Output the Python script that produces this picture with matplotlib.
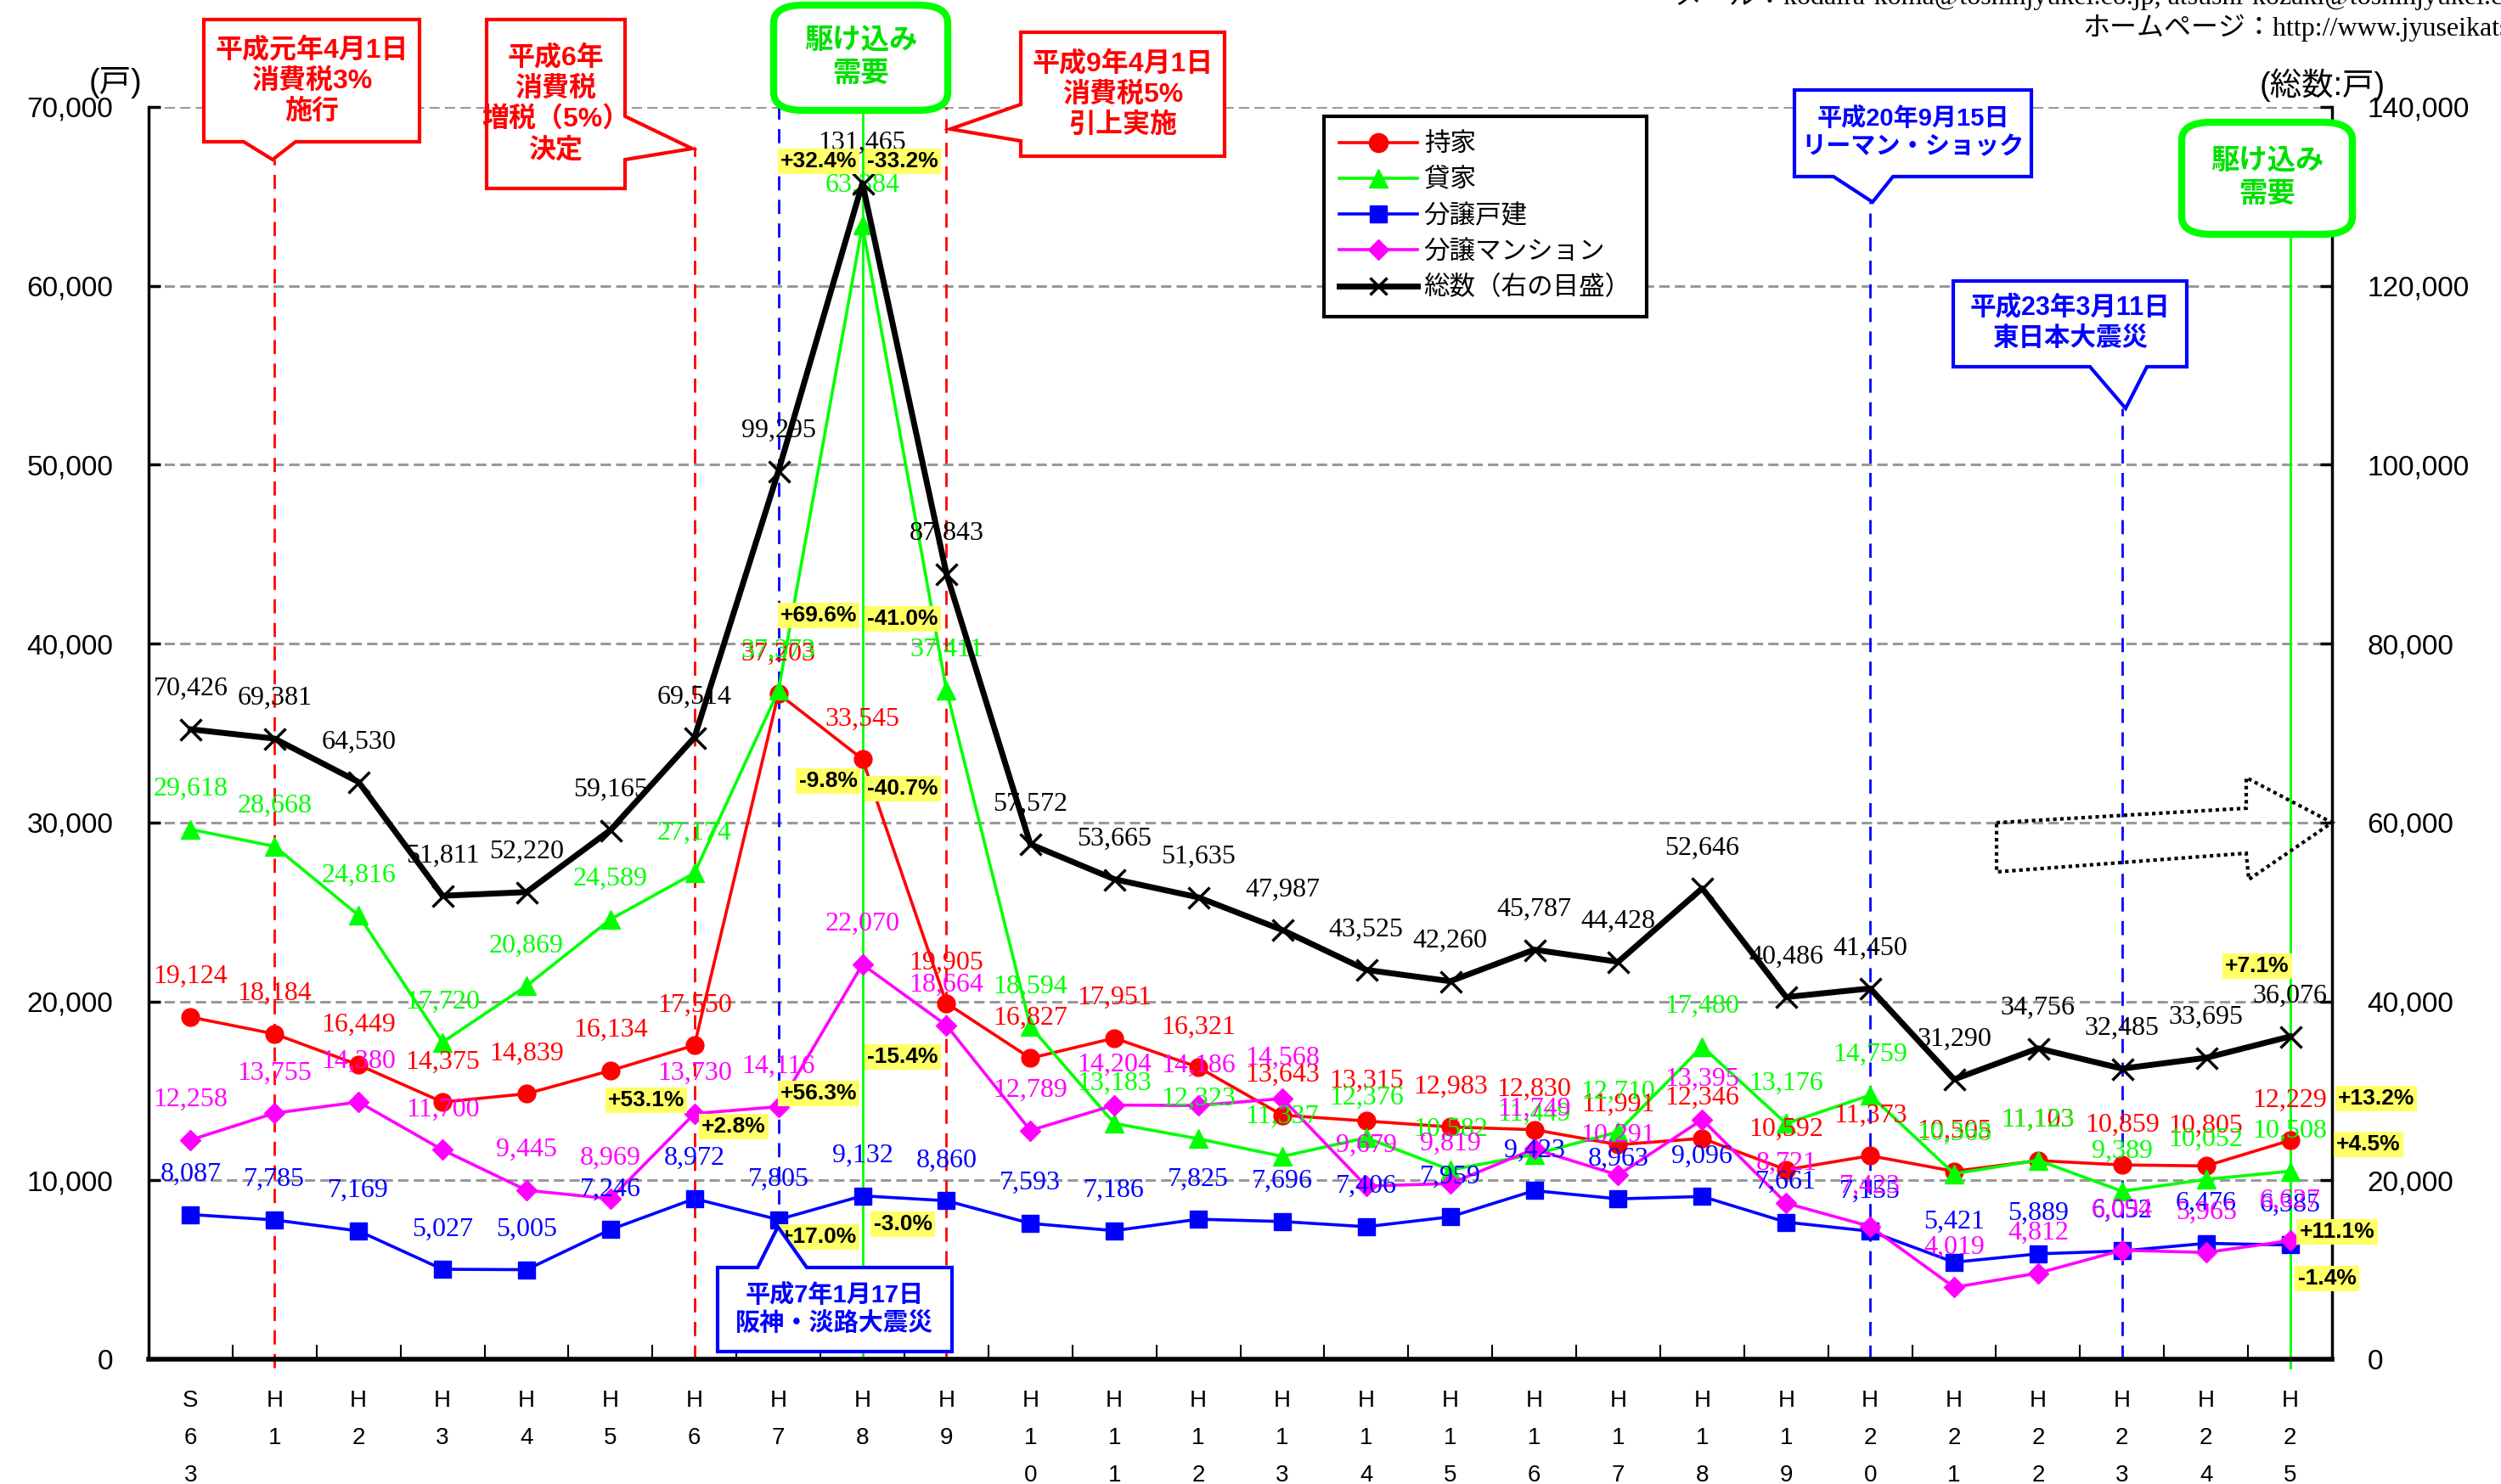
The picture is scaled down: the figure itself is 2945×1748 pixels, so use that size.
import numpy as np
import matplotlib.pyplot as plt
from matplotlib.patches import Polygon, FancyBboxPatch
from matplotlib.ticker import FuncFormatter
from matplotlib.lines import Line2D

plt.rcParams['font.family'] = ['Liberation Sans', 'Noto Sans CJK JP']

# categories (fiscal years, written vertically)
years = ["S\n6\n3", "H\n1", "H\n2", "H\n3", "H\n4", "H\n5", "H\n6", "H\n7", "H\n8", "H\n9",
         "H\n1\n0", "H\n1\n1", "H\n1\n2", "H\n1\n3", "H\n1\n4", "H\n1\n5", "H\n1\n6", "H\n1\n7",
         "H\n1\n8", "H\n1\n9", "H\n2\n0", "H\n2\n1", "H\n2\n2", "H\n2\n3", "H\n2\n4", "H\n2\n5"]

# series (units: houses)
mochiie = [19124, 18184, 16449, 14375, 14839, 16134, 17550, 37203, 33545, 19905, 16827, 17951, 16321,
           13643, 13315, 12983, 12830, 11991, 12346, 10592, 11373, 10505, 11103, 10859, 10805, 12229]
kashiya = [29618, 28668, 24816, 17720, 20869, 24589, 27174, 37373, 63384, 37411, 18594, 13183, 12323,
           11337, 12376, 10582, 11449, 12710, 17480, 13176, 14759, 10368, 11123, 9389, 10052, 10508]
kodate = [8087, 7785, 7169, 5027, 5005, 7246, 8972, 7805, 9132, 8860, 7593, 7186, 7825,
          7696, 7406, 7959, 9423, 8963, 9096, 7661, 7155, 5421, 5889, 6052, 6476, 6385]
mansion = [12258, 13755, 14380, 11700, 9445, 8969, 13730, 14116, 22070, 18664, 12789, 14204, 14186,
           14568, 9679, 9819, 11749, 10291, 13395, 8721, 7423, 4019, 4812, 6094, 5965, 6627]
total = [70426, 69381, 64530, 51811, 52220, 59165, 69514, 99295, 131465, 87843, 57572, 53665, 51635,
         47987, 43525, 42260, 45787, 44428, 52646, 40486, 41450, 31290, 34756, 32485, 33695, 36076]

series_names = ["持家", "貸家", "分譲戸建", "分譲マンション", "総数（右の目盛）"]

# change rates shown in yellow boxes
pct_texts = ["+32.4%", "-33.2%", "+69.6%", "-41.0%", "-9.8%", "-40.7%", "-15.4%", "+56.3%",
             "+53.1%", "+2.8%", "+17.0%", "-3.0%", "+7.1%", "+13.2%", "+4.5%", "+11.1%", "-1.4%"]

W, H = 2945, 1748


def fx(px):
    return px / W


def fy(py):
    return 1 - py / H


fig = plt.figure(figsize=(W / 100, H / 100), dpi=100)
ax = fig.add_axes([fx(175), fy(1601), (2746 - 175) / W, 1475 / H])
ax2 = ax.twinx()

x = np.arange(len(years))
ax.set_xlim(-0.5, len(years) - 0.5)
ax.set_ylim(0, 70000)
ax2.set_ylim(0, 140000)

fmt = FuncFormatter(lambda v, p: f"{int(v):,}")
ax.set_yticks(np.arange(0, 70001, 10000))
ax2.set_yticks(np.arange(0, 140001, 20000))
ax.yaxis.set_major_formatter(fmt)
ax2.yaxis.set_major_formatter(fmt)
ax.tick_params(axis='y', direction='in', length=10, width=2.5, labelsize=24, pad=30)
ax2.tick_params(axis='y', direction='in', length=10, width=2.5, labelsize=24, pad=30)

ax.set_xticks(x)
ax.set_xticklabels(years, fontsize=20, linespacing=1.9, va='top')
ax.tick_params(axis='x', which='major', length=0, pad=26)
ax.set_xticks(np.arange(0.5, len(years) - 1, 1), minor=True)
ax.tick_params(axis='x', which='minor', direction='in', length=12, width=1.5)

for a in (ax, ax2):
    a.spines['top'].set_visible(False)
ax.spines['left'].set_linewidth(2.5)
ax.spines['bottom'].set_linewidth(4)
ax.spines['right'].set_visible(False)
ax2.spines['left'].set_visible(False)
ax2.spines['bottom'].set_visible(False)
ax2.spines['right'].set_linewidth(2.5)

ax.grid(axis='y', color='#999999', linestyle=(0, (4, 2)), linewidth=2.2, zorder=0)
ax.set_axisbelow(True)

# event lines
vl = [(1, -0.007, 0.958, 'red', (0, (6, 4))), (6, 0, 0.968, 'red', (0, (6, 4))),
      (7, 0.105, 1, 'blue', (0, (6, 4))), (8, 0, 0.996, 'lime', '-'),
      (9, 0, 1, 'red', (0, (6, 4))), (20, 0, 0.924, 'blue', (0, (6, 4))),
      (23, 0, 0.759, 'blue', (0, (6, 4))), (25, -0.007, 0.898, 'lime', '-')]
for xi, y0, y1, c, ls in vl:
    ax.axvline(xi, y0, y1, color=c, linestyle=ls, linewidth=2, zorder=1, clip_on=False)

# series
styles = [(mochiie, 'red', 'o', 15), (kashiya, 'lime', '^', 16),
          (kodate, 'blue', 's', 14), (mansion, 'magenta', 'D', 12)]
for vals, c, m, ms in styles:
    ax.plot(x, vals, color=c, marker=m, markersize=ms, linewidth=2.6, zorder=3, clip_on=False)
    for xi, v in zip(x, vals):
        ax.annotate(f"{v:,}", (xi, v), xytext=(0, 34), textcoords='offset points',
                    ha='center', va='center', color=c, fontsize=23,
                    family='Liberation Serif', zorder=4)

ax2.plot(x, total, color='black', marker='x', markersize=18, markeredgewidth=2.5,
         linewidth=5, zorder=3, clip_on=False)
for xi, v in zip(x, total):
    ax2.annotate(f"{v:,}", (xi, v), xytext=(0, 34), textcoords='offset points',
                 ha='center', va='center', color='black', fontsize=23,
                 family='Liberation Serif', zorder=4)

leg_handles = [Line2D([], [], color='red', marker='o', markersize=16, lw=2.6),
               Line2D([], [], color='lime', marker='^', markersize=16, lw=2.6),
               Line2D([], [], color='blue', marker='s', markersize=15, lw=2.6),
               Line2D([], [], color='magenta', marker='D', markersize=12, lw=2.6),
               Line2D([], [], color='black', marker='x', markersize=14, markeredgewidth=2.5, lw=5)]
leg = fig.legend(leg_handles, series_names, loc='upper left', bbox_to_anchor=(fx(1559), fy(137)),
                 fontsize=22, frameon=True, fancybox=False, edgecolor='black', framealpha=1,
                 handlelength=3.0, handletextpad=0.25, labelspacing=0.4, borderpad=0.6,
                 borderaxespad=0)
leg.get_frame().set_linewidth(3)

# unit labels
fig.text(fx(136), fy(97), "(戸)", ha='center', va='center', fontsize=27)
fig.text(fx(2735), fy(100), "(総数:戸)", ha='center', va='center', fontsize=27)

# header (runs off the edges as in the source)
hfam = ['Liberation Serif', 'Noto Sans CJK JP']
fig.text(fx(1972), fy(-4), "メール：kodaira-koma@toshinjyukei.co.jp, atsushi-kozaki@toshinjyukei.co.jp",
         ha='left', va='center', fontsize=23, family=hfam)
fig.text(fx(2452), fy(33), "ホームページ：http://www.jyuseikatsu.co.jp",
         ha='left', va='center', fontsize=23, family=hfam)


def callout(x0, y0, x1, y1, side, b0, b1, tip, color, text, fs=23, lw=3):
    pts = [(x0, y0)]
    if side == 'top':
        pts += [(b0, y0), tip, (b1, y0)]
    pts.append((x1, y0))
    if side == 'right':
        pts += [(x1, b0), tip, (x1, b1)]
    pts.append((x1, y1))
    if side == 'bottom':
        pts += [(b1, y1), tip, (b0, y1)]
    pts.append((x0, y1))
    if side == 'left':
        pts += [(x0, b1), tip, (x0, b0)]
    poly = Polygon([(fx(a), fy(b)) for a, b in pts], closed=True, transform=fig.transFigure,
                   facecolor='white', edgecolor=color, linewidth=lw, zorder=6)
    fig.add_artist(poly)
    fig.text(fx((x0 + x1) / 2), fy((y0 + y1) / 2), text, ha='center', va='center', color=color,
             fontsize=fs, fontweight='bold', linespacing=1.25, zorder=7)


def rush_box(x0, y0, x1, y1):
    box = FancyBboxPatch((fx(x0), fy(y1)), fx(x1 - x0), (y1 - y0) / H,
                         boxstyle='round,pad=0,rounding_size=0.012', transform=fig.transFigure,
                         facecolor='white', edgecolor='lime', linewidth=6, zorder=6)
    fig.add_artist(box)
    fig.text(fx((x0 + x1) / 2), fy((y0 + y1) / 2), "駆け込み\n需要", ha='center', va='center',
             color='#00E000', fontsize=24, fontweight='bold', linespacing=1.35, zorder=7)


callout(240, 23, 494, 167, 'bottom', 287, 348, (321, 188), 'red', "平成元年4月1日\n消費税3%\n施行")
callout(573, 23, 736, 222, 'right', 137, 188, (815, 175), 'red', "平成6年\n消費税\n増税（5%）\n決定")
callout(1202, 38, 1442, 184, 'left', 123, 166, (1119, 152), 'red', "平成9年4月1日\n消費税5%\n引上実施")
callout(2113, 106, 2392, 208, 'bottom', 2159, 2229, (2205, 238), 'blue',
        "平成20年9月15日\nリーマン・ショック", fs=21)
callout(2300, 331, 2575, 432, 'bottom', 2461, 2528, (2503, 481), 'blue', "平成23年3月11日\n東日本大震災", fs=22)
callout(845, 1493, 1121, 1592, 'top', 892, 950, (916, 1445), 'blue', "平成7年1月17日\n阪神・淡路大震災", fs=21)
rush_box(911, 6, 1116, 130)
rush_box(2569, 144, 2770, 276)

# dotted arrow towards the right
arrow_pts = [(2351, 969), (2645, 952), (2645, 916), (2746, 969), (2648, 1036), (2645, 1005), (2351, 1027)]
fig.add_artist(Polygon([(fx(a), fy(b)) for a, b in arrow_pts], closed=True, transform=fig.transFigure,
                       facecolor='none', edgecolor='black', linewidth=3, linestyle=(0, (1, 1)), zorder=6))

# yellow change-rate boxes
pct_pos = [(964, 190), (1063, 190), (964, 725), (1063, 729), (975, 920), (1063, 929), (1063, 1245),
           (964, 1288), (761, 1296), (864, 1327), (964, 1457), (1063, 1442), (2658, 1138),
           (2798, 1294), (2789, 1348), (2752, 1451), (2740, 1506)]
for t, (px, py) in zip(pct_texts, pct_pos):
    fig.text(fx(px), fy(py), t, ha='center', va='center', fontsize=19, fontweight='bold',
             bbox=dict(boxstyle='square,pad=0.12', facecolor='#FFFF66', edgecolor='none'), zorder=5)

fig.savefig("out.png", dpi=100)
